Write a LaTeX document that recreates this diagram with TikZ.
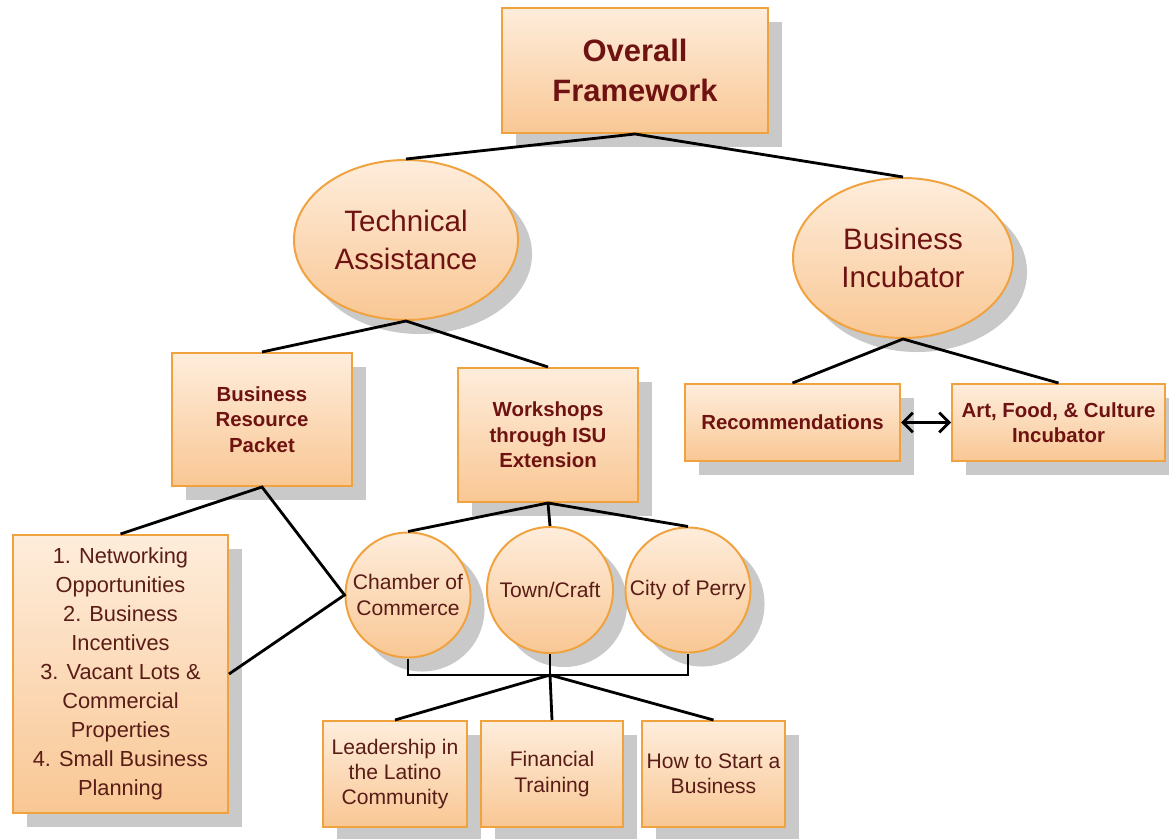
\documentclass[tikz,border=0pt]{standalone}
\usepackage{fontspec}
\setmainfont{Liberation Sans}
\usetikzlibrary{shapes.geometric,shadows,arrows.meta}
\definecolor{boxline}{HTML}{F0A23E}
\definecolor{boxtop}{HTML}{FEEDDC}
\definecolor{boxbottom}{HTML}{F9C794}
\definecolor{labeltext}{HTML}{6E1212}
\definecolor{itemtext}{HTML}{5A1C16}
\definecolor{shadowgray}{HTML}{C9C9C9}
\newcommand{\bigfont}{\fontsize{22}{28}\selectfont\bfseries}
\newcommand{\ovalfont}{\fontsize{21}{27}\selectfont}
\newcommand{\midfont}{\fontsize{14.5}{18}\selectfont\bfseries}
\newcommand{\itemfont}{\fontsize{15}{18}\selectfont}
\newcommand{\listfont}{\fontsize{15.5}{20.6}\selectfont}
\tikzset{
    block/.style={rectangle, draw=boxline, line width=1.4pt, top color=boxtop, bottom color=boxbottom,
        drop shadow={shadow xshift=0.35cm, shadow yshift=-0.35cm, fill=shadowgray, opacity=1},
        inner sep=0pt, align=center, text=labeltext},
    oval/.style={block, ellipse},
    round/.style={block, circle, text=itemtext, font=\itemfont},
    link/.style={draw=black, line width=2pt},
}

\begin{document}
\begin{tikzpicture}[x=0.025cm, y=-0.025cm]
    \useasboundingbox (0,0) rectangle (1169,839);
    \node[block, minimum width=6.65cm, minimum height=3.125cm, font=\bigfont] (overall) at (635,70.5) {Overall\\Framework};
    \node[oval, minimum width=5.6cm, minimum height=4cm, font=\ovalfont] (techassist) at (406,240) {Technical\\Assistance};
    \node[oval, minimum width=5.5cm, minimum height=4cm, font=\ovalfont] (incubator) at (903,258) {Business\\Incubator};
    \node[block, minimum width=4.5cm, minimum height=3.325cm, font=\midfont] (packet) at (262,419.5) {Business\\Resource\\Packet};
    \node[block, minimum width=4.5cm, minimum height=3.35cm, font=\midfont] (workshops) at (548,435) {Workshops\\through ISU\\Extension};
    \node[block, minimum width=5.375cm, minimum height=1.925cm, font=\midfont] (recs) at (792.5,422.5) {Recommendations};
    \node[block, minimum width=5.325cm, minimum height=1.925cm, font=\midfont] (culture) at (1058.5,422.5) {Art, Food, \& Culture\\Incubator};
    \node[block, minimum width=5.375cm, minimum height=6.95cm, font=\listfont, text=itemtext] (resources) at (120.5,674) {1. Networking\\Opportunities\\2. Business\\Incentives\\3. Vacant Lots \&\\Commercial\\Properties\\4. Small Business\\Planning};
    \node[round, minimum size=3.125cm] (chamber) at (408,595) {Chamber of\\Commerce};
    \node[round, minimum size=3.15cm] (town) at (550,590) {Town/Craft};
    \node[round, minimum size=3.125cm] (perry) at (688,590) {City of Perry};
    \node[block, minimum width=3.6cm, minimum height=2.65cm, font=\itemfont, text=itemtext] (leadership) at (395,774) {Leadership in\\the Latino\\Community};
    \node[block, minimum width=3.55cm, minimum height=2.65cm, font=\itemfont, text=itemtext] (financial) at (552,774) {Financial\\Training};
    \node[block, minimum width=3.575cm, minimum height=2.65cm, font=\itemfont, text=itemtext] (startup) at (713.5,774) {How to Start a\\Business};
    \coordinate (join) at (550,675);

    \draw[link] (techassist.north) -- (overall.south) -- (incubator.north);
    \draw[link] (packet.north) -- (techassist.south) -- (workshops.north);
    \draw[link] (recs.north) -- (incubator.south) -- (culture.north);
    \draw[link, {Straight Barb[length=7pt, width=14pt]}-{Straight Barb[length=7pt, width=14pt]}] (recs.east) -- (culture.west);
    \draw[link] (resources.north) -- (packet.south) -- (chamber.west) -- (resources.east);
    \draw[link] (chamber.north) -- (workshops.south) -- (perry.north);
    \draw[link] (workshops.south) -- (town.north);
    \draw[link] (chamber.south) |- (join) -| (perry.south);
    \draw[link] (town.south) -- (join);
    \draw[link] (leadership.north) -- (join) -- (startup.north);
    \draw[link] (join) -- (financial.north);
\end{tikzpicture}
\end{document}
